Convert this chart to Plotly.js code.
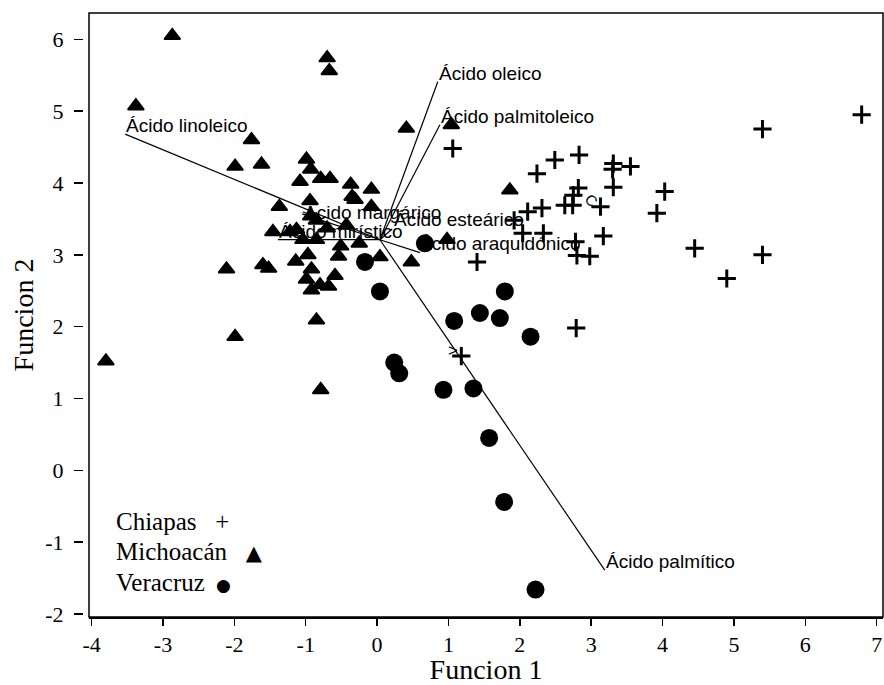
<!DOCTYPE html>
<html><head><meta charset="utf-8">
<script src="https://cdn.plot.ly/plotly-3.0.1.min.js"></script>
<style>html,body{margin:0;padding:0;background:#fff}</style>
</head><body>
<div id="chart" style="width:884px;height:685px"></div>
<script>
// ---- data ----
const chiapasX = [6.79,5.40,1.06,2.49,2.83,2.24,3.31,3.30,3.55,3.31,4.03,2.82,2.75,2.63,2.74,3.13,3.92,2.11,2.31,1.92,2.04,2.33,3.17,2.78,2.80,2.98,4.45,5.40,4.90,1.40,2.79,1.18];
const chiapasY = [4.95,4.75,4.48,4.32,4.39,4.13,4.27,4.19,4.23,3.94,3.88,3.93,3.83,3.69,3.69,3.67,3.58,3.60,3.65,3.48,3.30,3.30,3.26,3.18,2.99,2.98,3.09,3.00,2.67,2.90,1.98,1.59];
const michoacanX = [-2.87,-0.70,-0.67,-3.38,0.41,1.04,-1.76,-1.62,-1.99,-0.99,-0.93,-1.08,-0.79,-0.66,-0.37,-0.08,-0.35,-0.31,-0.94,-1.37,-0.08,-0.93,-0.85,-0.43,-1.46,-1.22,-1.13,-1.04,-0.85,-0.70,-0.51,-0.25,-0.54,0.04,0.48,-0.97,-1.14,-2.11,-1.60,-1.52,-0.92,-0.59,-0.99,-0.80,-0.68,-0.92,-0.85,-1.99,-0.79,-3.80,0.98,1.86];
const michoacanY = [6.05,5.74,5.56,5.07,4.76,4.81,4.60,4.26,4.23,4.33,4.19,4.02,4.06,4.06,3.98,3.91,3.81,3.77,3.75,3.67,3.67,3.54,3.48,3.41,3.32,3.32,3.35,3.21,3.21,3.37,3.12,3.16,2.98,2.97,2.90,3.00,2.91,2.80,2.86,2.81,2.80,2.71,2.66,2.58,2.56,2.51,2.09,1.86,1.12,1.52,3.21,3.90];
const veracruzX = [0.67,-0.17,0.04,1.79,1.44,1.72,1.08,2.15,0.24,0.31,0.93,1.35,1.57,1.78,2.22];
const veracruzY = [3.16,2.90,2.49,2.49,2.19,2.12,2.08,1.86,1.50,1.35,1.12,1.14,0.45,-0.44,-1.66];

const vectorNames = ['Ácido linoleico','Ácido oleico','Ácido palmitoleico','Ácido margárico','Ácido esteárico','Ácido mirístico','Ácido araquidónico','Ácido palmítico'];
const vectorX = [-3.53,0.85,0.88,-1.05,0.21,-1.39,0.60,3.19];
const vectorY = [4.68,5.41,4.81,3.57,3.36,3.21,3.03,-1.39];
const vectorOrigin = [0.04, 3.21];
const arrowMarkX = [-0.98, 1.06];
const arrowMarkY = [3.55, 1.67];
const centroidMark = {x: 3.01, y: 3.76, text: 'C'};

const xTickVals = [-4,-3,-2,-1,0,1,2,3,4,5,6,7];
const xTickText = ['-4','-3','-2','-1','0','1','2','3','4','5','6','7'];
const yTickVals = [-2,-1,0,1,2,3,4,5,6];
const yTickText = ['-2','-1','0','1','2','3','4','5','6'];

const legendItems = [
  'Chiapas\u00a0\u00a0\u00a0+',
  'Michoacán\u00a0\u00a0\u00a0<span style="font-size:21px;font-family:DejaVu Sans">▲</span>',
  'Veracruz\u00a0\u2009<span style="font-size:17px;font-family:DejaVu Sans">●</span>'
];

// ---- styles ----
const SERIF = 'Liberation Serif, Times New Roman, serif';
const SANS = 'Liberation Sans, Arial, sans-serif';
const labelShift = {'Ácido margárico': [1,-10], 'Ácido araquidónico': [-2,-2], 'Ácido esteárico': [1,-2]};
const legendPos = [0.134, 0.0844, 0.0323];

// vectors
const lx = [], ly = [];
vectorX.forEach((x, i) => { lx.push(vectorOrigin[0], x, null); ly.push(vectorOrigin[1], vectorY[i], null); });

const traces = [
  {x: lx, y: ly, mode: 'lines', line: {color: '#000', width: 1.2}, hoverinfo: 'skip'},
  {x: michoacanX, y: michoacanY, mode: 'markers', name: 'Michoacán',
   marker: {symbol: 'triangle-up', size: 14, color: '#000', line: {color: '#000', width: 1.8}}},
  {x: veracruzX, y: veracruzY, mode: 'markers', name: 'Veracruz',
   marker: {symbol: 'circle', size: 18, color: '#000'}},
  {x: chiapasX, y: chiapasY, mode: 'markers', name: 'Chiapas',
   marker: {symbol: 'cross-thin', size: 13, color: '#000', line: {color: '#000', width: 3}}}
];

const annotations = [];
vectorNames.forEach((n, i) => {
  const s = labelShift[n] || [0, -3];
  annotations.push({x: vectorX[i], y: vectorY[i], xref: 'x', yref: 'y', text: n, showarrow: false,
    xanchor: 'left', yanchor: 'bottom', xshift: s[0], yshift: s[1], borderpad: 0,
    font: {family: SANS, size: 19, color: '#000'}});
});
arrowMarkX.forEach((x, i) => {
  annotations.push({x: x, y: arrowMarkY[i], xref: 'x', yref: 'y', text: '>', showarrow: false,
    xanchor: 'center', yanchor: 'middle', borderpad: 0, font: {family: SANS, size: 17, color: '#000'}});
});
annotations.push({x: centroidMark.x, y: centroidMark.y, xref: 'x', yref: 'y', text: centroidMark.text,
  showarrow: false, textangle: 45, font: {family: SANS, size: 15, color: '#000'}});
legendItems.forEach((t, i) => {
  annotations.push({x: 0.0327, y: legendPos[i], xref: 'x domain', yref: 'y domain', text: t,
    showarrow: false, xanchor: 'left', yanchor: 'bottom', borderpad: 0,
    font: {family: SERIF, size: 25, color: '#000'}});
});

const layout = {
  width: 884, height: 685,
  margin: {l: 83, r: 1, t: 13, b: 68, pad: 0},
  paper_bgcolor: '#fff', plot_bgcolor: '#fff',
  showlegend: false,
  xaxis: {
    domain: [6/800, 1], range: [-4.037, 7.089], anchor: 'y',
    tickmode: 'array', tickvals: xTickVals, ticktext: xTickText,
    ticks: 'outside', ticklen: 7, tickwidth: 1.5, tickcolor: '#000',
    showline: true, linecolor: '#000', linewidth: 1.5,
    showgrid: false, zeroline: false,
    tickfont: {family: SERIF, size: 22, color: '#000'},
    title: {text: 'Funcion 1', font: {family: SERIF, size: 28, color: '#000'}, standoff: 4}
  },
  yaxis: {
    anchor: 'free', position: 0, range: [-2.042, 6.366],
    tickmode: 'array', tickvals: yTickVals, ticktext: yTickText,
    ticks: 'outside', ticklen: 9, tickwidth: 1.5, tickcolor: '#000',
    showline: false, showgrid: false, zeroline: false,
    ticklabelstandoff: 6,
    tickfont: {family: SERIF, size: 22, color: '#000'},
    title: {text: 'Funcion 2', font: {family: SERIF, size: 28, color: '#000'}, standoff: 2}
  },
  shapes: [{type: 'rect', xref: 'x domain', yref: 'y domain', x0: 0, x1: 1, y0: 0, y1: 1,
    line: {color: '#000', width: 1.5}, fillcolor: 'rgba(0,0,0,0)', layer: 'above'}],
  annotations: annotations
};

Plotly.newPlot('chart', traces, layout, {staticPlot: true, displayModeBar: false});
</script>
</body></html>
